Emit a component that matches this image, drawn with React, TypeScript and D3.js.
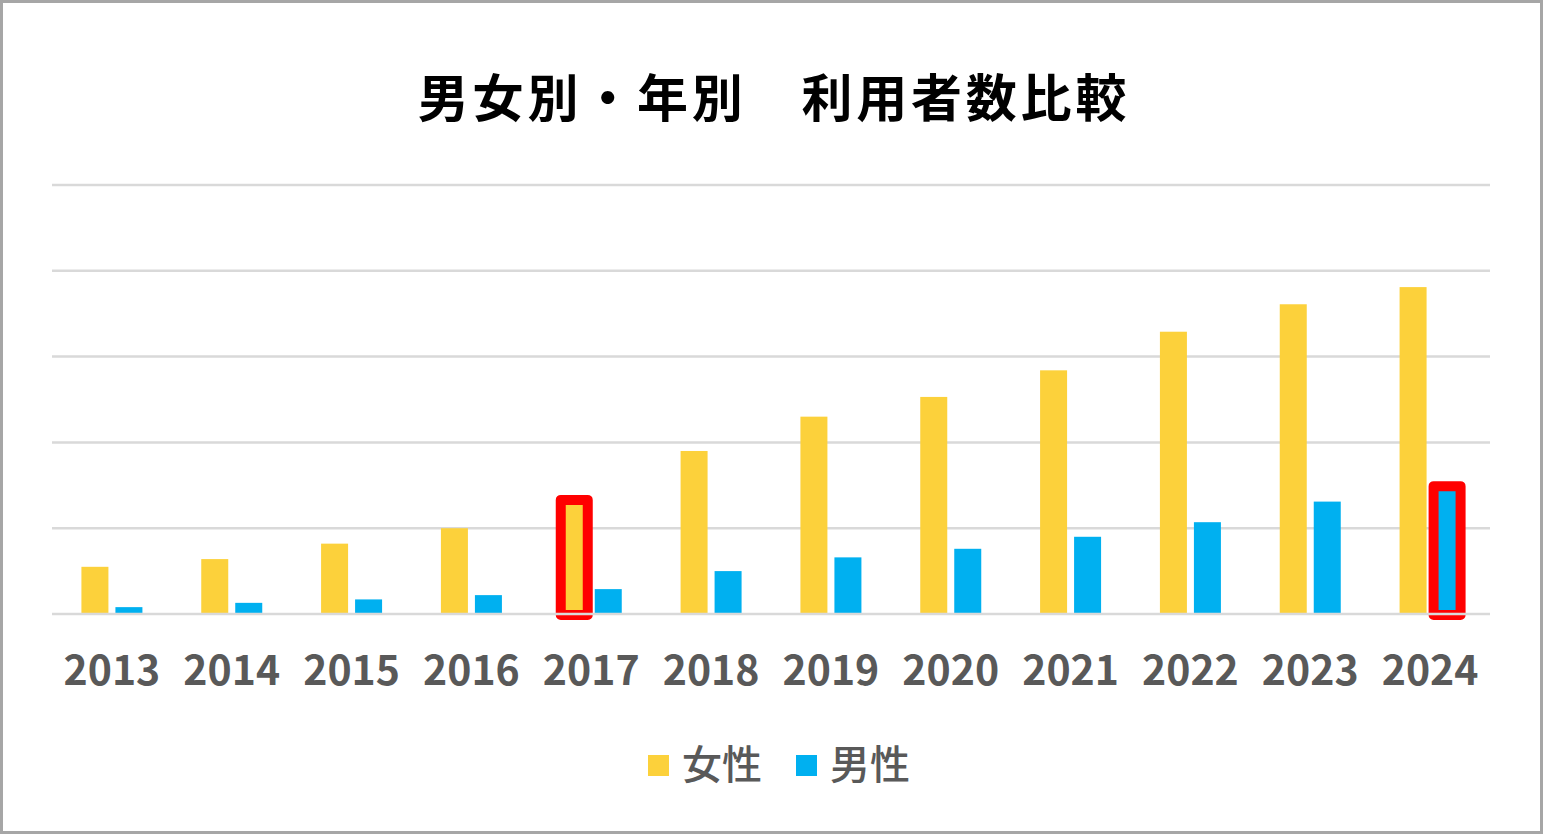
import React from "react";
import * as d3 from "d3";

const years = ["2013", "2014", "2015", "2016", "2017", "2018", "2019", "2020", "2021", "2022", "2023", "2024"];
const female = [55, 64, 82, 100, 133, 190, 230, 253, 284, 329, 361, 381];
const male = [8, 13, 17, 22, 29, 50, 66, 76, 90, 107, 131, 149];
const gridTicks = [0, 100, 200, 300, 400, 500];
const seriesNames = ["女性", "男性"];
const highlights = [
  { year: "2017", series: 0 },
  { year: "2024", series: 1 },
];

const W = 1543;
const H = 834;
const YELLOW = "#FCD13B";
const BLUE = "#00B0F0";
const FONT = "'Noto Sans CJK JP', 'Noto Sans', sans-serif";

export default function App() {
  const x = d3.scaleBand<string>().domain(years).range([52, 1490]).paddingInner(0).paddingOuter(0);
  const y = d3.scaleLinear().domain([0, 500]).range([614, 185]);
  const barW = 27;
  const gap = 7;
  const bw = x.bandwidth();
  const groupW = barW * 2 + gap;
  const off = (bw - groupW) / 2;
  const colors = [YELLOW, BLUE];
  const data = [female, male];

  const barX = (yr: string, s: number) => (x(yr) as number) + off + s * (barW + gap);

  return (
    <div style={{ position: "absolute", left: 0, top: 0 }}>
      <svg width={W} height={H} style={{ display: "block" }}>
        <rect x={1.5} y={1.5} width={W - 3} height={H - 3} fill="#fff" stroke="#a6a6a6" strokeWidth={3} />
        <text
          x={774}
          y={117}
          textAnchor="middle"
          fontFamily={FONT}
          fontWeight={700}
          fontSize={51}
          letterSpacing={3.8}
          fill="#000"
        >
          男女別・年別　利用者数比較
        </text>
        {gridTicks.slice(1).map((t) => (
          <line key={t} x1={52} x2={1490} y1={y(t)} y2={y(t)} stroke="#d9d9d9" strokeWidth={2.5} />
        ))}
        {data.map((vals, s) =>
          vals.map((v, i) => (
            <rect
              key={`${s}-${i}`}
              x={barX(years[i], s)}
              y={y(v)}
              width={barW}
              height={y(0) - y(v)}
              fill={colors[s]}
            />
          ))
        )}
        {highlights.map((h) => {
          const i = years.indexOf(h.year);
          const v = data[h.series][i];
          return (
            <rect
              key={h.year}
              x={barX(h.year, h.series)}
              y={y(v)}
              width={barW}
              height={y(0) - y(v) + 1}
              fill="none"
              stroke="#ff0000"
              strokeWidth={10}
              strokeLinejoin="round"
            />
          );
        })}
        <line x1={52} x2={1490} y1={y(0)} y2={y(0)} stroke="#d9d9d9" strokeWidth={2.5} />
        {years.map((yr) => (
          <text
            key={yr}
            x={(x(yr) as number) + bw / 2}
            y={685}
            textAnchor="middle"
            fontFamily={FONT}
            fontWeight={700}
            fontSize={41}
            fill="#595959"
          >
            {yr}
          </text>
        ))}
        {seriesNames.map((n, s) => {
          const lx = [648, 796][s];
          return (
            <g key={n}>
              <rect x={lx} y={755} width={21} height={21} fill={colors[s]} />
              <text x={lx + 34} y={779} fontFamily={FONT} fontWeight={500} fontSize={40} fill="#595959">
                {n}
              </text>
            </g>
          );
        })}
      </svg>
    </div>
  );
}
